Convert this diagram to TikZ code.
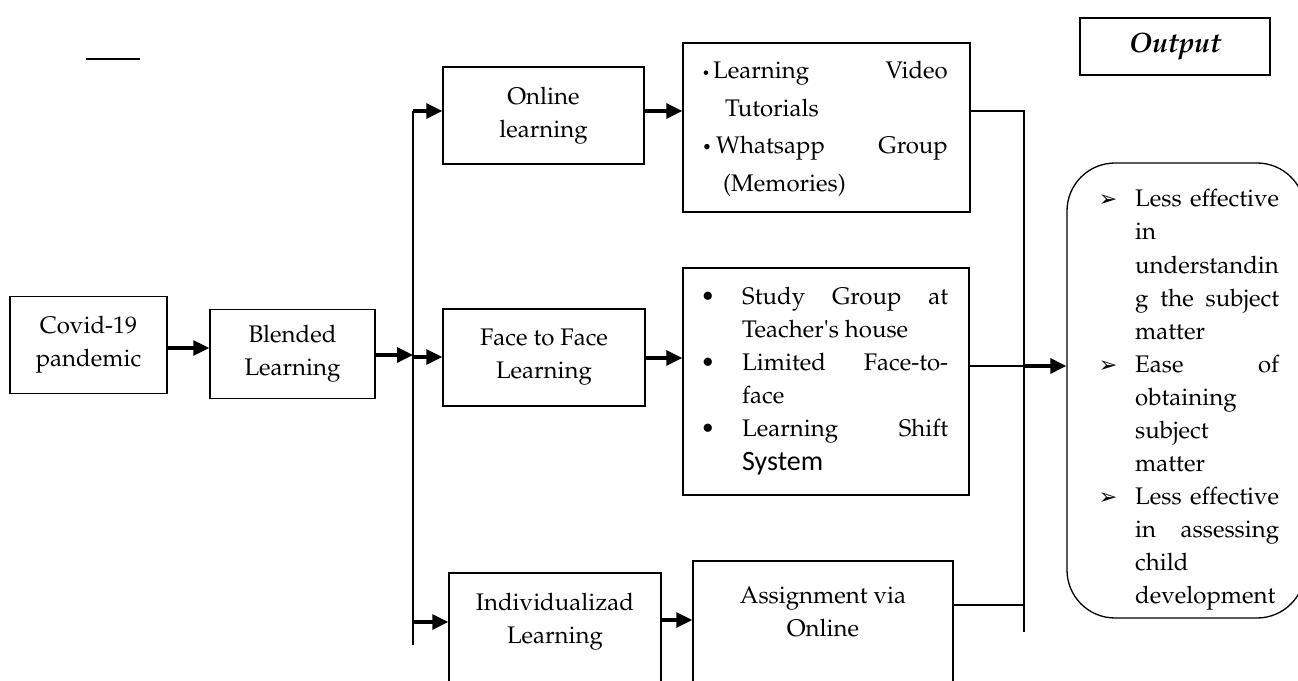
\documentclass[tikz,border=0pt]{standalone}
\usepackage[T1]{fontenc}
\usepackage{fontspec}
\usetikzlibrary{arrows.meta}
\newfontfamily\carlito{Carlito}
\newfontfamily\djv{DejaVu Sans}
\newcommand\pal{\fontencoding{T1}\fontfamily{ppl}\fontsize{24bp}{33bp}\selectfont}
\newcommand\palbi{\fontencoding{T1}\fontfamily{ppl}\fontsize{28bp}{32bp}\bfseries\itshape\selectfont}
\newcommand\tip{{\djv\fontsize{22bp}{22bp}\selectfont ➢}}
\begin{document}
\begin{tikzpicture}[x=1bp,y=-1bp,
  box/.style={draw, line width=1.4bp, inner sep=0pt},
  arr/.style={line width=3.2bp, -{Triangle[length=16bp,width=15bp]}},
  thinline/.style={line width=1.4bp},
  txt/.style={anchor=base west, inner sep=0pt, font=\pal},
  txtr/.style={anchor=base east, inner sep=0pt, font=\pal},
  bul/.style={anchor=base, inner sep=0pt},
  lbl/.style={align=center, font=\pal, inner sep=0pt}]
\useasboundingbox (0,0) rectangle (1298,681);
\clip (0,0) rectangle (1298,681);

% stray dash
\coordinate (d1) at (86,59);
\coordinate (d2) at (140,59);
\draw[line width=1.6bp] (d1) -- (d2);

% boxes
\node[box, minimum width=157bp, minimum height=97bp] (covid) at (88.5,345) {};
\node[lbl] (covidt) at (covid.center) {Covid-19\\pandemic};
\node[box, minimum width=165bp, minimum height=89bp] (blended) at (292.5,354) {};
\node[lbl] (blendedt) at (blended.center) {Blended\\Learning};
\node[box, minimum width=201bp, minimum height=97bp] (online) at (543.5,115.5) {};
\node[lbl] (onlinet) at (online.center) {Online\\learning};
\node[box, minimum width=202bp, minimum height=97bp] (face) at (544,357.5) {};
\node[lbl] (facet) at (face.center) {Face to Face\\Learning};
\node[box, minimum width=212bp, minimum height=147bp] (indiv) at (555,646.5) {};
\node[lbl] (indivt) at (555,622) {Individualizad\\Learning};
\node[box, minimum width=260bp, minimum height=159bp] (assign) at (823,640.5) {};
\node[lbl] (assignt) at (823,612) {Assignment via\\Online};
\node[box, minimum width=287bp, minimum height=169bp] (onlist) at (826.5,127.5) {};
\node[box, minimum width=286bp, minimum height=227bp] (flist) at (826,381.5) {};
\node[box, minimum width=190bp, minimum height=57bp] (outp) at (1175,46.5) {};
\node[inner sep=0pt, font=\palbi] (outpt) at (outp.center) {Output};
\node[draw, line width=1.3bp, rounded corners=48bp, minimum width=238bp, minimum height=455bp, inner sep=0pt] (res) at (1186,390.5) {};

% online list text
\node[bul] (ob1) at (706,79) {\fontsize{20bp}{20bp}\selectfont\textbullet};
\node[txt] (o1) at (713,79) {Learning};
\node[txtr] (o1r) at (948,79) {Video};
\node[txt] (o2) at (725,117) {Tutorials};
\node[bul] (ob2) at (707,154) {\fontsize{24bp}{24bp}\selectfont\textbullet};
\node[txt] (o3) at (716,154) {Whatsapp};
\node[txtr] (o3r) at (948,154) {Group};
\node[txt] (o4) at (723,192) {(Memories)};

% face list text
\foreach \yy/\nm in {304/fb1,370/fb2,436/fb3}
  \node[bul] (\nm) at (708,\yy) {\pal\textbullet};
\node[txt] (f1) at (742,304) {\makebox[206bp][l]{Study\hfill Group\hfill at}};
\node[txt] (f2) at (742,337) {Teacher\textquotesingle s house};
\node[txt] (f3) at (742,370) {\makebox[206bp][l]{Limited\hfill Face-to-}};
\node[txt] (f4) at (742,403) {face};
\node[txt] (f5) at (742,436) {\makebox[206bp][l]{Learning\hfill Shift}};
\node[anchor=base west, inner sep=0pt, font=\carlito\fontsize{28bp}{30bp}\selectfont] (f6) at (742,470) {System};

% result list text
\node[bul] (rb1) at (1108,207) {\tip};
\node[bul] (rb2) at (1108,372) {\tip};
\node[bul] (rb3) at (1108,504) {\tip};
\node[txt] (r1) at (1135,207) {\makebox[144bp][l]{Less\hfill effective}};
\node[txt] (r2) at (1135,240) {in};
\node[txt] (r3) at (1135,273) {understandin};
\node[txt] (r4) at (1135,306) {\makebox[144bp][l]{g\hfill the\hfill subject}};
\node[txt] (r5) at (1135,339) {matter};
\node[txt] (r6) at (1135,372) {\makebox[144bp][l]{Ease\hfill of}};
\node[txt] (r7) at (1135,405) {obtaining};
\node[txt] (r8) at (1135,438) {subject};
\node[txt] (r9) at (1135,471) {matter};
\node[txt] (r10) at (1135,504) {\makebox[144bp][l]{Less\hfill effective}};
\node[txt] (r11) at (1135,537) {\makebox[144bp][l]{in\hfill assessing}};
\node[txt] (r12) at (1135,570) {child};
\node[txt] (r13) at (1135,603) {development};

% connector lines
\coordinate (vt) at (413,111);
\coordinate (vb) at (413,645);
\coordinate (ia) at (413,622);
\coordinate (rt) at (1024,111);
\coordinate (rb) at (1024,632);
\coordinate (fo) at (1024,366);
\coordinate (ao) at (1024,605);
\draw[thinline] (vt) -- (vb);
\draw[thinline] (onlist.east |- rt) -- (rt) -- (rb);
\draw[thinline] (flist.east |- fo) -- (fo);
\draw[thinline] (assign.east |- ao) -- (ao);

% arrows
\draw[arr] (covid.east |- 0,348) -- (blended.west |- 0,348);
\draw[arr] (blended.east |- 0,355) -- (vt |- 0,355);
\draw[arr] (vt |- 0,357) -- (face.west |- 0,357);
\draw[arr] (vt) -- (vt -| online.west);
\draw[arr] (online.east |- vt) -- (onlist.west |- vt);
\draw[arr] (face.east |- 0,358) -- (flist.west |- 0,358);
\draw[arr] (ia) -- (ia -| indiv.west);
\draw[arr] (indiv.east |- 0,620) -- (assign.west |- 0,620);
\draw[arr] (fo) -- (fo -| res.west);
\end{tikzpicture}
\end{document}
